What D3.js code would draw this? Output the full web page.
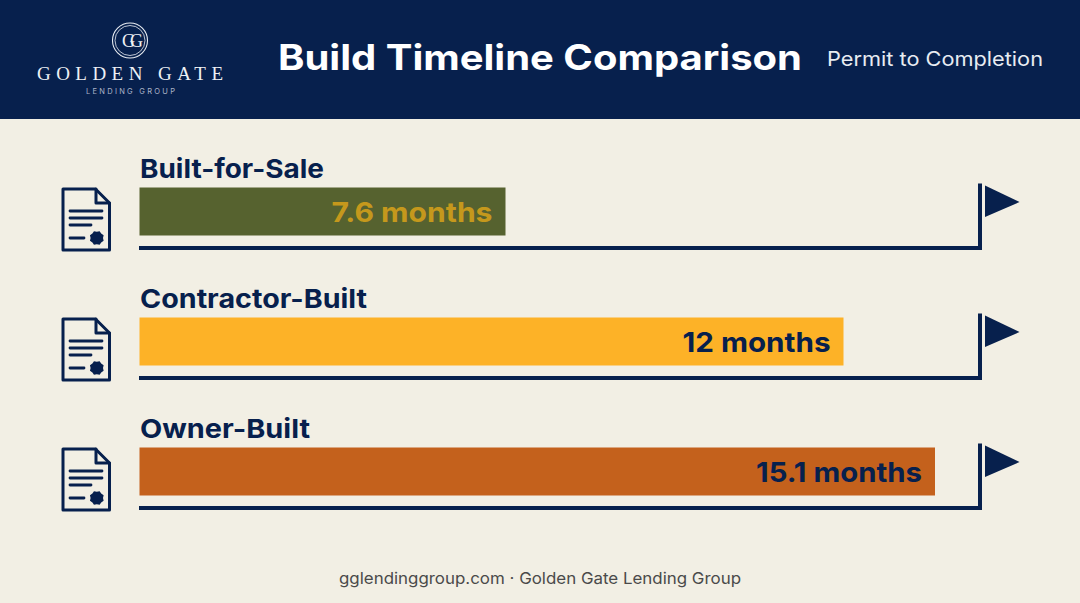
<!DOCTYPE html>
<html><head><meta charset="utf-8">
<script src="https://cdn.jsdelivr.net/npm/d3@7/dist/d3.min.js"></script>
<style>html,body{margin:0;padding:0;background:#f2efe4}svg{display:block}</style>
</head><body><svg id="c" width="1080" height="603"></svg>
<script>
const categories = ["Built-for-Sale", "Contractor-Built", "Owner-Built"];
const months = [7.6, 12, 15.1];
const valueLabels = ["7.6 months", "12 months", "15.1 months"];
const barColors = ["#56622f", "#fdb227", "#c4611c"];
const labelColors = ["#c5981c", "#07204d", "#07204d"];
const title = "Build Timeline Comparison";
const subtitle = "Permit to Completion";
const footer = "gglendinggroup.com · Golden Gate Lending Group";

const navy = "#07204d", font = "Inter, 'Noto Sans', sans-serif", serif = "'Liberation Serif',serif";
const W = 1080, H = 603;
const svg = d3.select("#c");
svg.append("rect").attr("width", W).attr("height", H).attr("fill", "#f2efe4");
svg.append("rect").attr("width", W).attr("height", 119).attr("fill", navy);

// Bars in the reference are not proportional to the value: the scale follows the picture's lengths.
const x = d3.scaleLinear().domain([0, 7.6, 12, 15.1]).range([139.5, 505.5, 843.5, 935]);
const y = d3.scalePoint().domain(categories).range([211.5, 471.5]);

// header
const logo = svg.append("g").attr("transform", "translate(130,40.5)");
logo.append("circle").attr("r", 17.5).attr("fill", "none").attr("stroke", "#e8ecf2").attr("stroke-width", 1.1);
logo.append("circle").attr("r", 15).attr("fill", "none").attr("stroke", "#e8ecf2").attr("stroke-width", .8);
logo.append("text").attr("text-anchor", "middle").attr("y", 6).attr("font-family", serif).attr("font-size", 18).attr("letter-spacing", -5).attr("fill", "#eef1f5").text("GG");
svg.append("text").attr("x", 37).attr("y", 80).attr("font-family", serif).attr("font-size", 19).attr("fill", "#eef1f5").attr("textLength", 186).text("GOLDEN GATE");
svg.append("text").attr("x", 86).attr("y", 94).attr("font-family", font).attr("font-size", 7.5).attr("fill", "#aab4c8").attr("textLength", 89).text("LENDING GROUP");
svg.append("text").attr("x", 278).attr("y", 70).attr("font-family", font).attr("font-weight", 700).attr("font-size", 35).attr("fill", "#fff").attr("textLength", 524).attr("lengthAdjust", "spacingAndGlyphs").text(title);
svg.append("text").attr("x", 827).attr("y", 66).attr("font-family", font).attr("font-size", 20).attr("fill", "#e8ecf2").attr("textLength", 216).attr("lengthAdjust", "spacingAndGlyphs").text(subtitle);

// rows
const rows = svg.selectAll("g.row").data(categories).join("g").attr("class", "row")
  .attr("transform", d => `translate(0,${y(d)})`);

rows.append("text").attr("x", 140).attr("y", -34).attr("font-family", font).attr("font-weight", 700).attr("font-size", 26).attr("fill", navy)
  .attr("textLength", (d, i) => [184, 227, 170][i]).attr("lengthAdjust", "spacingAndGlyphs").text(d => d);
rows.append("rect").attr("x", x(0)).attr("y", -24).attr("height", 48)
  .attr("width", (d, i) => x(months[i]) - x(0)).attr("fill", (d, i) => barColors[i]);
rows.append("text").attr("x", (d, i) => x(months[i]) - 13).attr("y", 10).attr("text-anchor", "end")
  .attr("font-family", font).attr("font-weight", 700).attr("font-size", 27.5).attr("fill", (d, i) => labelColors[i])
  .attr("textLength", (d, i) => [161, 148, 166][i]).attr("lengthAdjust", "spacingAndGlyphs").text((d, i) => valueLabels[i]);

// track + flag
rows.append("path").attr("d", "M139,36.5H980V-28").attr("fill", "none").attr("stroke", navy).attr("stroke-width", 4);
rows.append("path").attr("d", "M985,-26L1019.5,-9.5L985,5.5Z").attr("fill", navy);

// document icon
const ic = rows.append("g").attr("fill", "none").attr("stroke", navy).attr("stroke-linecap", "round").attr("stroke-linejoin", "round");
ic.append("path").attr("d", "M63,-22.5H95.5L109.5,-8.5V38.5H63Z").attr("stroke-width", 3);
ic.append("path").attr("d", "M96,-22.5V-8.5H109.5").attr("stroke-width", 3);
[[70,102,-0.5],[70,102,6.5],[70,91,13.5],[70,84,26.5]].forEach(a =>
  ic.append("path").attr("d", `M${a[0]},${a[2]}H${a[1]}`).attr("stroke-width", 2.8));
// scalloped seal
const seal = d3.range(16).map(k => {
  const r = k % 2 ? 7.4 : 6.2, t = k * Math.PI / 8;
  return [96.8 + r * Math.cos(t), 26.5 + r * Math.sin(t)];
});
rows.append("path").attr("d", d3.line().curve(d3.curveLinearClosed)(seal)).attr("fill", navy);

svg.append("text").attr("x", 540).attr("y", 584).attr("text-anchor", "middle").attr("font-family", font).attr("font-size", 16).attr("fill", "#4a4a4a").attr("textLength", 402).attr("lengthAdjust", "spacingAndGlyphs").text(footer);
</script></body></html>
